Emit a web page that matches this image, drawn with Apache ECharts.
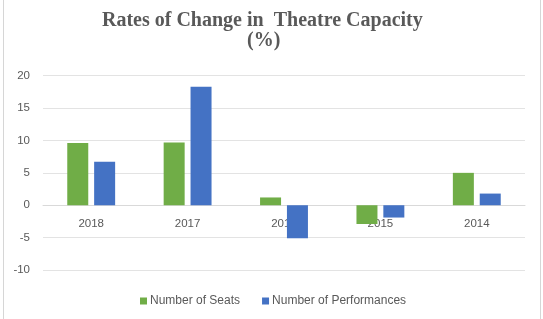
<!DOCTYPE html>
<html>
<head>
<meta charset="utf-8">
<script src="https://cdn.jsdelivr.net/npm/echarts@6/dist/echarts.min.js"></script>
<style>
html,body{margin:0;padding:0;background:#fff;}
#frame{position:absolute;left:3px;top:0px;width:538px;height:319px;border-left:1px solid #d6d6d6;border-right:1px solid #d6d6d6;box-sizing:border-box;}
#chart{position:absolute;left:0;top:0;width:543px;height:319px;}
</style>
</head>
<body>
<div id="frame"></div>
<div id="chart"></div>
<script>
var categories = ['2018', '2017', '2016', '2015', '2014'];
var seats = [9.6, 9.7, 1.2, -2.9, 5.0];
var performances = [6.7, 18.3, -5.1, -1.9, 1.8];
var seriesNames = ['Number of Seats', 'Number of Performances'];
var titleLines = ['Rates of Change in  Theatre Capacity', '(%)'];

var titleStyle = {
  fontFamily: 'Liberation Serif',
  fontWeight: 'bold',
  fontSize: 20,
  color: '#595959'
};

var chart = echarts.init(document.getElementById('chart'), null, {renderer: 'canvas'});
chart.setOption({
  animation: false,
  backgroundColor: 'transparent',
  title: [
    {text: titleLines[0], left: 102, top: 11, padding: 0, textStyle: titleStyle},
    {text: titleLines[1], left: 247, top: 31, padding: 0, textStyle: titleStyle}
  ],
  legend: {
    data: seriesNames,
    top: 290,
    left: 135,
    itemWidth: 7,
    itemHeight: 7,
    itemGap: 22,
    icon: 'rect',
    textStyle: {fontFamily: 'Liberation Sans', fontSize: 12, color: '#595959', padding: [0, 0, 0, -2]}
  },
  grid: {left: 43, right: 18, top: 75.7, bottom: 49},
  xAxis: {
    type: 'category',
    data: categories,
    offset: -64.3,
    axisLine: {onZero: false, lineStyle: {color: '#d9d9d9', width: 1}},
    axisTick: {show: false},
    axisLabel: {fontFamily: 'Liberation Sans', fontSize: 11.5, color: '#595959', margin: 12}
  },
  yAxis: {
    type: 'value',
    min: -10,
    max: 20,
    interval: 5,
    axisLine: {show: false},
    axisTick: {show: false},
    splitLine: {lineStyle: {color: '#e3e3e3', width: 1}},
    axisLabel: {fontFamily: 'Liberation Sans', fontSize: 11.5, color: '#595959', margin: 13}
  },
  series: [
    {name: seriesNames[0], type: 'bar', data: seats, barWidth: 21, barGap: '28%', itemStyle: {color: '#70ad47'}},
    {name: seriesNames[1], type: 'bar', data: performances, barWidth: 21, itemStyle: {color: '#4472c4'}}
  ]
});
</script>
</body>
</html>
